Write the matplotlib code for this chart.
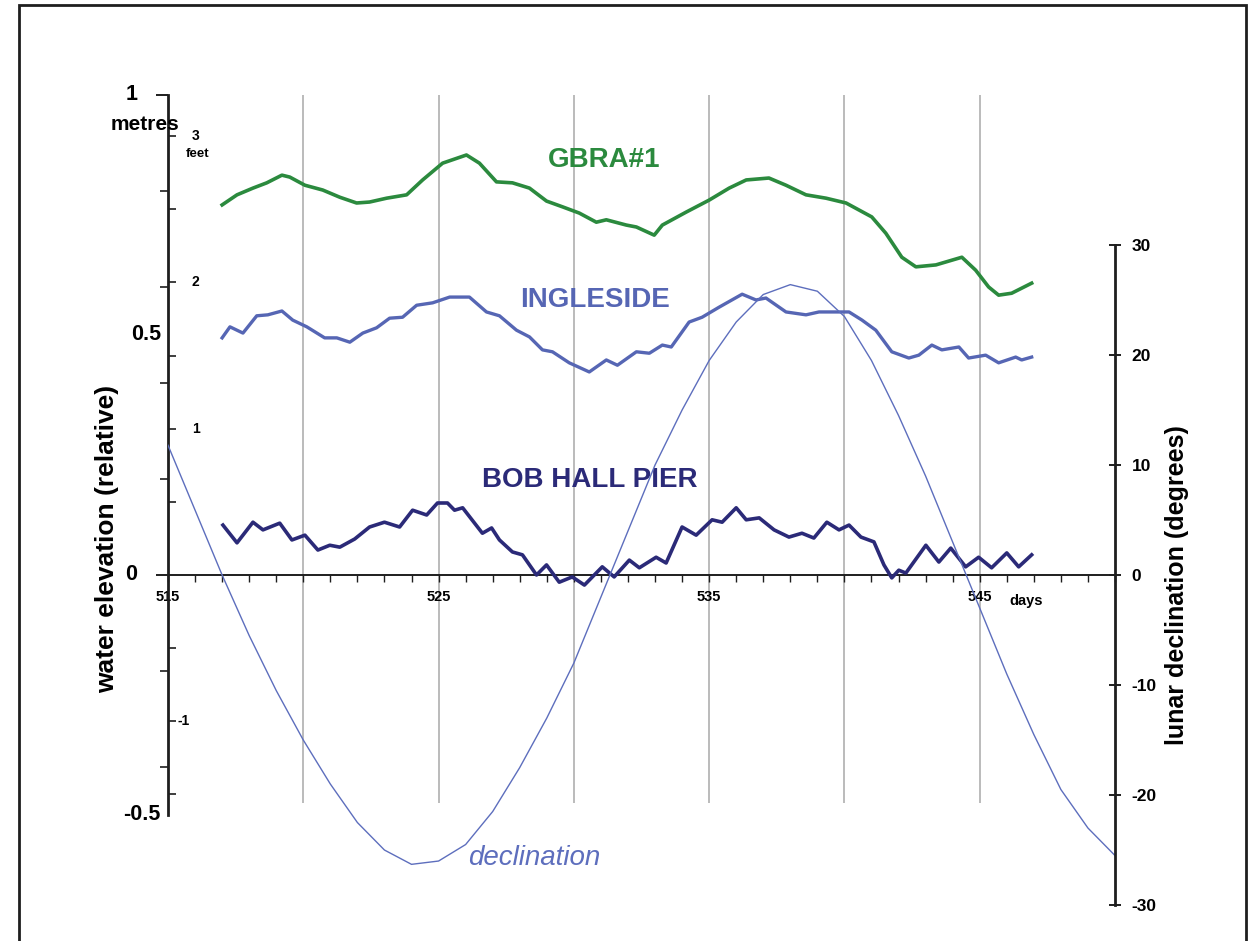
import matplotlib
matplotlib.use("Agg")
import matplotlib.pyplot as plt
from matplotlib.patches import Rectangle
from matplotlib.ticker import MultipleLocator
import matplotlib.transforms as mtransforms

plt.rcParams["font.family"] = ["Liberation Sans", "DejaVu Sans"]

# --- données ----------------------------------------------------------------
gbra_jours = [517.0, 517.55, 518.14, 518.65, 519.21, 519.5, 520.06, 520.72, 521.35,
              521.97, 522.45, 523.08, 523.82, 524.41, 525.15, 526.03, 526.51, 527.14,
              527.73, 528.36, 528.99, 529.58, 530.2, 530.83, 531.2, 531.94, 532.31,
              532.97, 533.27, 534.15, 535.0, 535.74, 536.37, 537.21, 537.84, 538.58,
              539.32, 540.06, 541.01, 541.53, 542.12, 542.64, 543.38, 544.34, 544.85,
              545.33, 545.7, 546.18, 546.92]
gbra_niveau = [0.771, 0.792, 0.806, 0.817, 0.833, 0.829, 0.812, 0.802, 0.787,
               0.775, 0.777, 0.785, 0.792, 0.823, 0.858, 0.875, 0.858, 0.819,
               0.817, 0.806, 0.779, 0.767, 0.754, 0.735, 0.740, 0.729, 0.725,
               0.708, 0.729, 0.756, 0.781, 0.806, 0.823, 0.827, 0.812, 0.792,
               0.785, 0.775, 0.746, 0.712, 0.662, 0.642, 0.646, 0.662, 0.635,
               0.600, 0.583, 0.587, 0.608]

ingl_jours = [517.0, 517.29, 517.77, 518.28, 518.69, 519.21, 519.61, 520.13, 520.79,
              521.24, 521.72, 522.2, 522.71, 523.19, 523.67, 524.19, 524.78, 525.41,
              526.14, 526.77, 527.25, 527.88, 528.36, 528.84, 529.21, 529.83, 530.57,
              531.2, 531.61, 532.31, 532.79, 533.27, 533.6, 534.26, 534.74, 535.37,
              536.22, 536.73, 537.1, 537.84, 538.58, 539.06, 539.69, 540.17, 540.65,
              541.16, 541.75, 542.38, 542.75, 543.23, 543.6, 544.23, 544.59, 545.22,
              545.7, 546.33, 546.55, 546.92]
ingl_niveau = [0.494, 0.517, 0.504, 0.540, 0.542, 0.550, 0.531, 0.517, 0.494,
               0.494, 0.485, 0.504, 0.515, 0.535, 0.537, 0.562, 0.567, 0.579,
               0.579, 0.548, 0.540, 0.510, 0.496, 0.469, 0.465, 0.442, 0.423,
               0.448, 0.437, 0.465, 0.462, 0.479, 0.475, 0.527, 0.537, 0.558,
               0.585, 0.573, 0.577, 0.548, 0.542, 0.548, 0.548, 0.548, 0.531,
               0.510, 0.465, 0.452, 0.458, 0.479, 0.469, 0.475, 0.452, 0.458,
               0.442, 0.454, 0.448, 0.454]

bob_jours = [517.03, 517.55, 518.14, 518.51, 519.13, 519.58, 520.06, 520.54, 520.98,
             521.35, 521.9, 522.45, 523.0, 523.56, 524.04, 524.56, 524.96, 525.33,
             525.59, 525.89, 526.62, 526.96, 527.25, 527.73, 528.1, 528.62, 528.99,
             529.46, 529.94, 530.39, 531.05, 531.49, 532.05, 532.42, 533.04, 533.41,
             534.0, 534.52, 535.11, 535.48, 536.0, 536.37, 536.85, 537.4, 537.95,
             538.43, 538.87, 539.35, 539.8, 540.17, 540.61, 541.09, 541.46, 541.75,
             542.01, 542.27, 543.01, 543.49, 543.93, 544.48, 544.96, 545.44, 546.0,
             546.44, 546.92]
bob_niveau = [0.104, 0.067, 0.110, 0.094, 0.108, 0.073, 0.083, 0.052, 0.062,
              0.058, 0.075, 0.100, 0.110, 0.100, 0.135, 0.125, 0.150, 0.150,
              0.135, 0.140, 0.087, 0.098, 0.073, 0.048, 0.042, 0.000, 0.021,
              -0.015, -0.004, -0.021, 0.017, -0.004, 0.031, 0.015, 0.037, 0.025,
              0.100, 0.083, 0.115, 0.110, 0.140, 0.115, 0.119, 0.094, 0.079,
              0.087, 0.077, 0.110, 0.094, 0.104, 0.079, 0.069, 0.021, -0.006,
              0.010, 0.004, 0.062, 0.027, 0.056, 0.017, 0.037, 0.015, 0.046,
              0.017, 0.042]

decl_jours = list(range(515, 551))
decl_degres = [11.8, 5.9, 0.0, -5.5, -10.5, -15.0, -19.0, -22.5, -25.0, -26.3,
               -26.0, -24.5, -21.5, -17.5, -13.0, -8.0, -2.0, 4.0, 10.0, 15.0,
               19.5, 23.0, 25.5, 26.4, 25.8, 23.5, 19.5, 14.5, 9.0, 3.0,
               -3.0, -9.0, -14.5, -19.5, -23.0, -25.5]

jours_grille = [520, 525, 530, 535, 540, 545]
ticks_jours = [515, 525, 535, 545]
ticks_metres = [0, 1]
labels_metres = {1: ("1", -30), 0.5: ("0.5", -7), 0: ("0", -31), -0.5: ("-0.5", -8)}
ticks_metres_min = [-0.4, -0.2, 0.2, 0.4, 0.6, 0.8]
ticks_pieds = [-1.5, -1, -0.5, 0.5, 1, 1.5, 2, 2.5, 3]
labels_pieds = {3: ("3", 24), 2: ("2", 24), 1: ("1", 24), -1: ("-1", 9)}
ticks_decl = [-30, -20, -10, 0, 10, 20, 30]

VERT = "#2b8a3e"
BLEU_CLAIR = "#5666b4"
MARINE = "#2b2a78"
BLEU_DECL = "#5d6ebd"
NOIR = "#1e1e1e"
PIED = 0.3048

W, H = 1249, 941
fig = plt.figure(figsize=(W / 100, H / 100), dpi=100)
fig.patch.set_facecolor("white")

# axe principal : x 515 -> 550 sur px 168 -> 1115
ax = fig.add_axes([168 / W, 1 - 920 / H, (1115 - 168) / W, 860 / H])
ax.set_xlim(515, 550)
ylim_m = (-0.71875, 1.0729)
ax.set_ylim(*ylim_m)
ax.patch.set_visible(False)

# axe des pieds (graduations intérieures sur l'axe gauche)
ax3 = ax.twinx()
ax3.set_ylim(ylim_m[0] / PIED, ylim_m[1] / PIED)
for s in ax3.spines.values():
    s.set_visible(False)
ax3.yaxis.tick_left()
ax3.set_yticks(ticks_pieds)
ax3.tick_params(axis="y", direction="in", length=6, width=1.2, color=NOIR,
                labelleft=False)

ax2 = ax.twinx()
ax2.set_ylim(-31.36, 46.82)

# grille verticale
ax.vlines(jours_grille, -0.475, 1.0, color="#b5b5b5", lw=1.3, zorder=1)

ax.plot(gbra_jours, gbra_niveau, color=VERT, lw=2.6, zorder=3)
ax.plot(ingl_jours, ingl_niveau, color=BLEU_CLAIR, lw=2.4, zorder=3)
ax.plot(bob_jours, bob_niveau, color=MARINE, lw=2.6, zorder=3)
ax2.plot(decl_jours, decl_degres, color=BLEU_DECL, lw=1.0, zorder=2)

# spines
for s in ["top", "right"]:
    ax.spines[s].set_visible(False)
ax.spines["left"].set_bounds(-0.5, 1)
ax.spines["bottom"].set_position(("data", 0))
ax.spines["bottom"].set_bounds(515, 550)
for s in ["left", "bottom"]:
    ax.spines[s].set_color(NOIR)
ax.spines["left"].set_linewidth(2.0)
ax.spines["bottom"].set_linewidth(1.4)

for s in ["top", "left", "bottom"]:
    ax2.spines[s].set_visible(False)
ax2.spines["right"].set_bounds(-30, 30)
ax2.spines["right"].set_linewidth(2.0)
ax2.spines["right"].set_color(NOIR)

# ticks x
ax.set_xticks(ticks_jours)
ax.set_xticklabels([str(j) for j in ticks_jours], fontsize=10.5, fontweight="bold")
ax.xaxis.set_minor_locator(MultipleLocator(1))
ax.tick_params(axis="x", which="both", direction="out", length=5, width=1,
               color=NOIR, pad=6)
ax.annotate("days", xy=(545, 0), xytext=(46, -26), textcoords="offset pixels",
            ha="center", va="center", fontsize=10.5, fontweight="bold")

# ticks metres
ax.set_yticks(ticks_metres)
ax.set_yticklabels([])
ax.set_yticks(ticks_metres_min, minor=True)
ax.tick_params(axis="y", which="major", direction="out", length=9, width=1.4,
               color=NOIR)
ax.tick_params(axis="y", which="minor", direction="out", length=6, width=1.2,
               color=NOIR)
trans = mtransforms.blended_transform_factory(ax.transAxes, ax.transData)
for m, (lab, dx) in labels_metres.items():
    ax.annotate(lab, xy=(0, m), xycoords=trans, xytext=(dx, 0),
                textcoords="offset pixels", ha="right", va="center",
                fontsize=15.5, fontweight="bold")

for f, (lab, dx) in labels_pieds.items():
    ax.annotate(lab, xy=(0, f * PIED), xycoords=trans, xytext=(dx, 0),
                textcoords="offset pixels", ha="left", va="center",
                fontsize=10, fontweight="bold")

# ticks déclinaison
ax2.set_yticks(ticks_decl)
ax2.set_yticklabels([str(d) for d in ticks_decl], fontsize=12.5, fontweight="bold")
ax2.tick_params(axis="y", direction="inout", length=8, width=1.4, color=NOIR, pad=8)

# textes
ax.text(514.15, 0.9375, "metres", ha="center", va="center", fontsize=15,
        fontweight="bold")
ax.text(516.1, 0.878, "feet", ha="center", va="center", fontsize=9.5,
        fontweight="bold")
ax.text(531.13, 0.865, "GBRA#1", color=VERT, ha="center", va="center",
        fontsize=20, fontweight="bold")
ax.text(530.79, 0.573, "INGLESIDE", color=BLEU_CLAIR, ha="center", va="center",
        fontsize=20, fontweight="bold")
ax.text(530.57, 0.198, "BOB HALL PIER", color=MARINE, ha="center", va="center",
        fontsize=20, fontweight="bold")
ax.text(528.54, -0.59, "declination", color=BLEU_DECL, ha="center", va="center",
        fontsize=20, style="italic")

fig.text(107 / W, 1 - 539 / H, "water elevation (relative)", rotation=90,
         ha="center", va="center", fontsize=19, fontweight="bold")
fig.text(1177 / W, 1 - 585 / H, "lunar declination (degrees)", rotation=90,
         ha="center", va="center", fontsize=18, fontweight="bold")

# cadre
fig.add_artist(Rectangle((19 / W, -0.02), (1246 - 19) / W, 1.02 - 5 / H,
                         transform=fig.transFigure, fill=False, lw=2,
                         ec=NOIR))

fig.savefig("out.png", dpi=100, facecolor="white")
